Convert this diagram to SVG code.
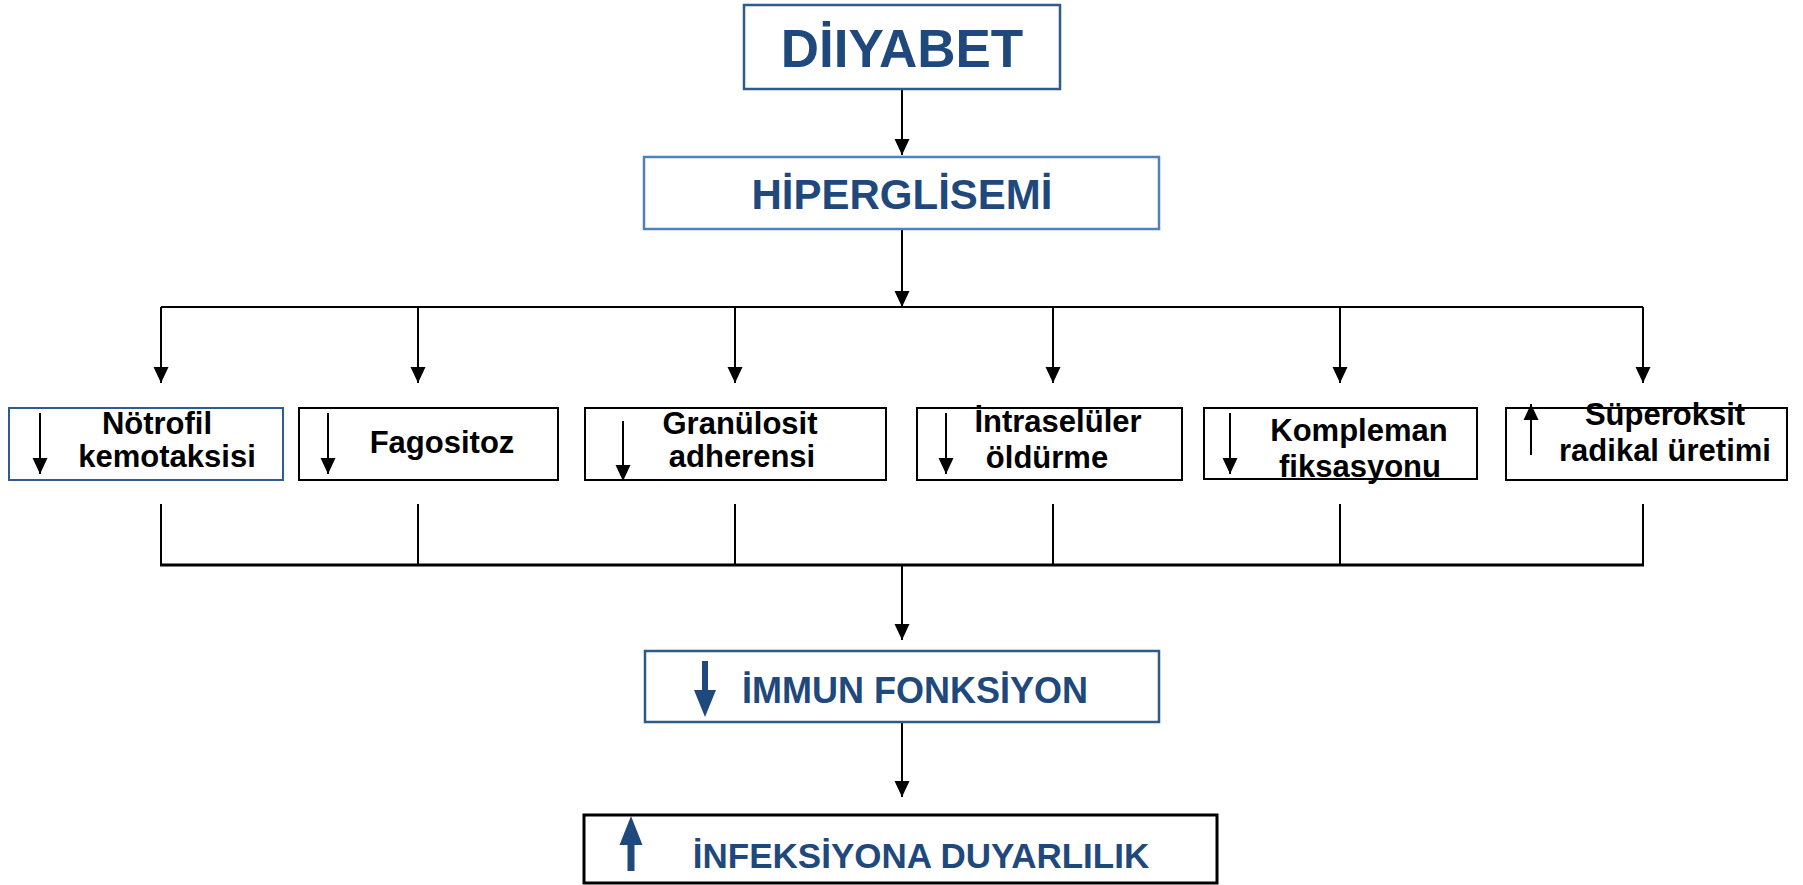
<svg xmlns="http://www.w3.org/2000/svg" width="1803" height="885" viewBox="0 0 1803 885">
<defs>
<marker id="ah" markerUnits="userSpaceOnUse" markerWidth="16" markerHeight="16" refX="16" refY="7.5" orient="auto" viewBox="0 0 16 15">
<path d="M0,0 L16,7.5 L0,15 z" fill="#000"/>
</marker>
<style>
.box{fill:#fff;stroke:#000;stroke-width:2}
.bl{stroke:#2E5A96}
.big{font-family:"Liberation Sans",Arial,sans-serif;font-weight:bold;fill:#1F497D;text-anchor:middle}
.sm{font-family:"Liberation Sans",Arial,sans-serif;font-weight:bold;fill:#000;text-anchor:middle;font-size:31px}
.ln{stroke:#000;stroke-width:2;fill:none}
.ar{stroke:#000;stroke-width:2;fill:none;marker-end:url(#ah)}
</style>
</defs>
<rect width="1803" height="885" fill="#fff"/>

<g id="connectors">
<line class="ar" x1="902" y1="89" x2="902" y2="155"/>
<line class="ar" x1="902" y1="230" x2="902" y2="307"/>
<line class="ln" x1="161" y1="307" x2="1643" y2="307"/>
<line class="ar" x1="161" y1="307" x2="161" y2="383"/>
<line class="ar" x1="418" y1="307" x2="418" y2="383"/>
<line class="ar" x1="735" y1="307" x2="735" y2="383"/>
<line class="ar" x1="1053" y1="307" x2="1053" y2="383"/>
<line class="ar" x1="1340" y1="307" x2="1340" y2="383"/>
<line class="ar" x1="1643" y1="307" x2="1643" y2="383"/>
<line class="ln" x1="161" y1="504" x2="161" y2="565"/>
<line class="ln" x1="418" y1="504" x2="418" y2="565"/>
<line class="ln" x1="735" y1="504" x2="735" y2="565"/>
<line class="ln" x1="1053" y1="504" x2="1053" y2="565"/>
<line class="ln" x1="1340" y1="504" x2="1340" y2="565"/>
<line class="ln" x1="1643" y1="504" x2="1643" y2="565"/>
<line class="ln" x1="160" y1="565" x2="1644" y2="565" style="stroke-width:3"/>
<line class="ar" x1="902" y1="565" x2="902" y2="640"/>
<line class="ar" x1="902" y1="723" x2="902" y2="797"/>
</g>

<g id="diyabet">
<rect x="744" y="5" width="316" height="84" fill="#fff" stroke="#2F5A8C" stroke-width="2.5"/>
<text class="big" x="902" y="67" font-size="53">DİIYABET</text>
</g>

<g id="hiperglisemi">
<rect x="644" y="157" width="515" height="72" fill="#fff" stroke="#4F81BD" stroke-width="2.5"/>
<text class="big" x="902" y="209" font-size="42">HİPERGLİSEMİ</text>
</g>

<g id="notrofil">
<rect class="box bl" x="9" y="408" width="274" height="72"/>
<line class="ar" x1="40" y1="413" x2="40" y2="474"/>
<text class="sm" x="157" y="434">Nötrofil</text>
<text class="sm" x="167" y="467">kemotaksisi</text>
</g>

<g id="fagositoz">
<rect class="box" x="299" y="408" width="259" height="72"/>
<line class="ar" x1="328" y1="413" x2="328" y2="474"/>
<text class="sm" x="442" y="453">Fagositoz</text>
</g>

<g id="granulosit">
<rect class="box" x="585" y="408" width="301" height="72"/>
<line class="ar" x1="623" y1="421" x2="623" y2="481"/>
<text class="sm" x="740" y="434">Granülosit</text>
<text class="sm" x="742" y="467">adherensi</text>
</g>

<g id="intraseluler">
<rect class="box" x="917" y="408" width="265" height="72"/>
<line class="ar" x1="946" y1="413" x2="946" y2="474"/>
<text class="sm" x="1058" y="432">İntraselüler</text>
<text class="sm" x="1047" y="468">öldürme</text>
</g>

<g id="kompleman">
<rect class="box" x="1204" y="408" width="273" height="71"/>
<line class="ar" x1="1230" y1="413" x2="1230" y2="474"/>
<text class="sm" x="1359" y="441">Kompleman</text>
<text class="sm" x="1360" y="477">fiksasyonu</text>
</g>

<g id="superoksit">
<rect class="box" x="1506" y="408" width="281" height="72"/>
<line class="ar" x1="1531" y1="455" x2="1531" y2="404"/>
<text class="sm" x="1665" y="425">Süperoksit</text>
<text class="sm" x="1665" y="461">radikal üretimi</text>
</g>

<g id="immun">
<rect x="645" y="651" width="514" height="71" fill="#fff" stroke="#2E5A8A" stroke-width="2.5"/>
<path d="M702,661 H708 V690 H716 L705,717 L694,690 H702 Z" fill="#1F497D"/>
<text class="big" x="915" y="703" font-size="36">İMMUN FONKSİYON</text>
</g>

<g id="infeksiyon">
<rect x="584" y="815" width="633" height="68" fill="#fff" stroke="#000" stroke-width="3"/>
<path d="M631,816 L642.5,845 H634.5 V871 H627.5 V845 H619.5 Z" fill="#1F497D"/>
<text class="big" x="921" y="868" font-size="35">İNFEKSİYONA DUYARLILIK</text>
</g>
</svg>
